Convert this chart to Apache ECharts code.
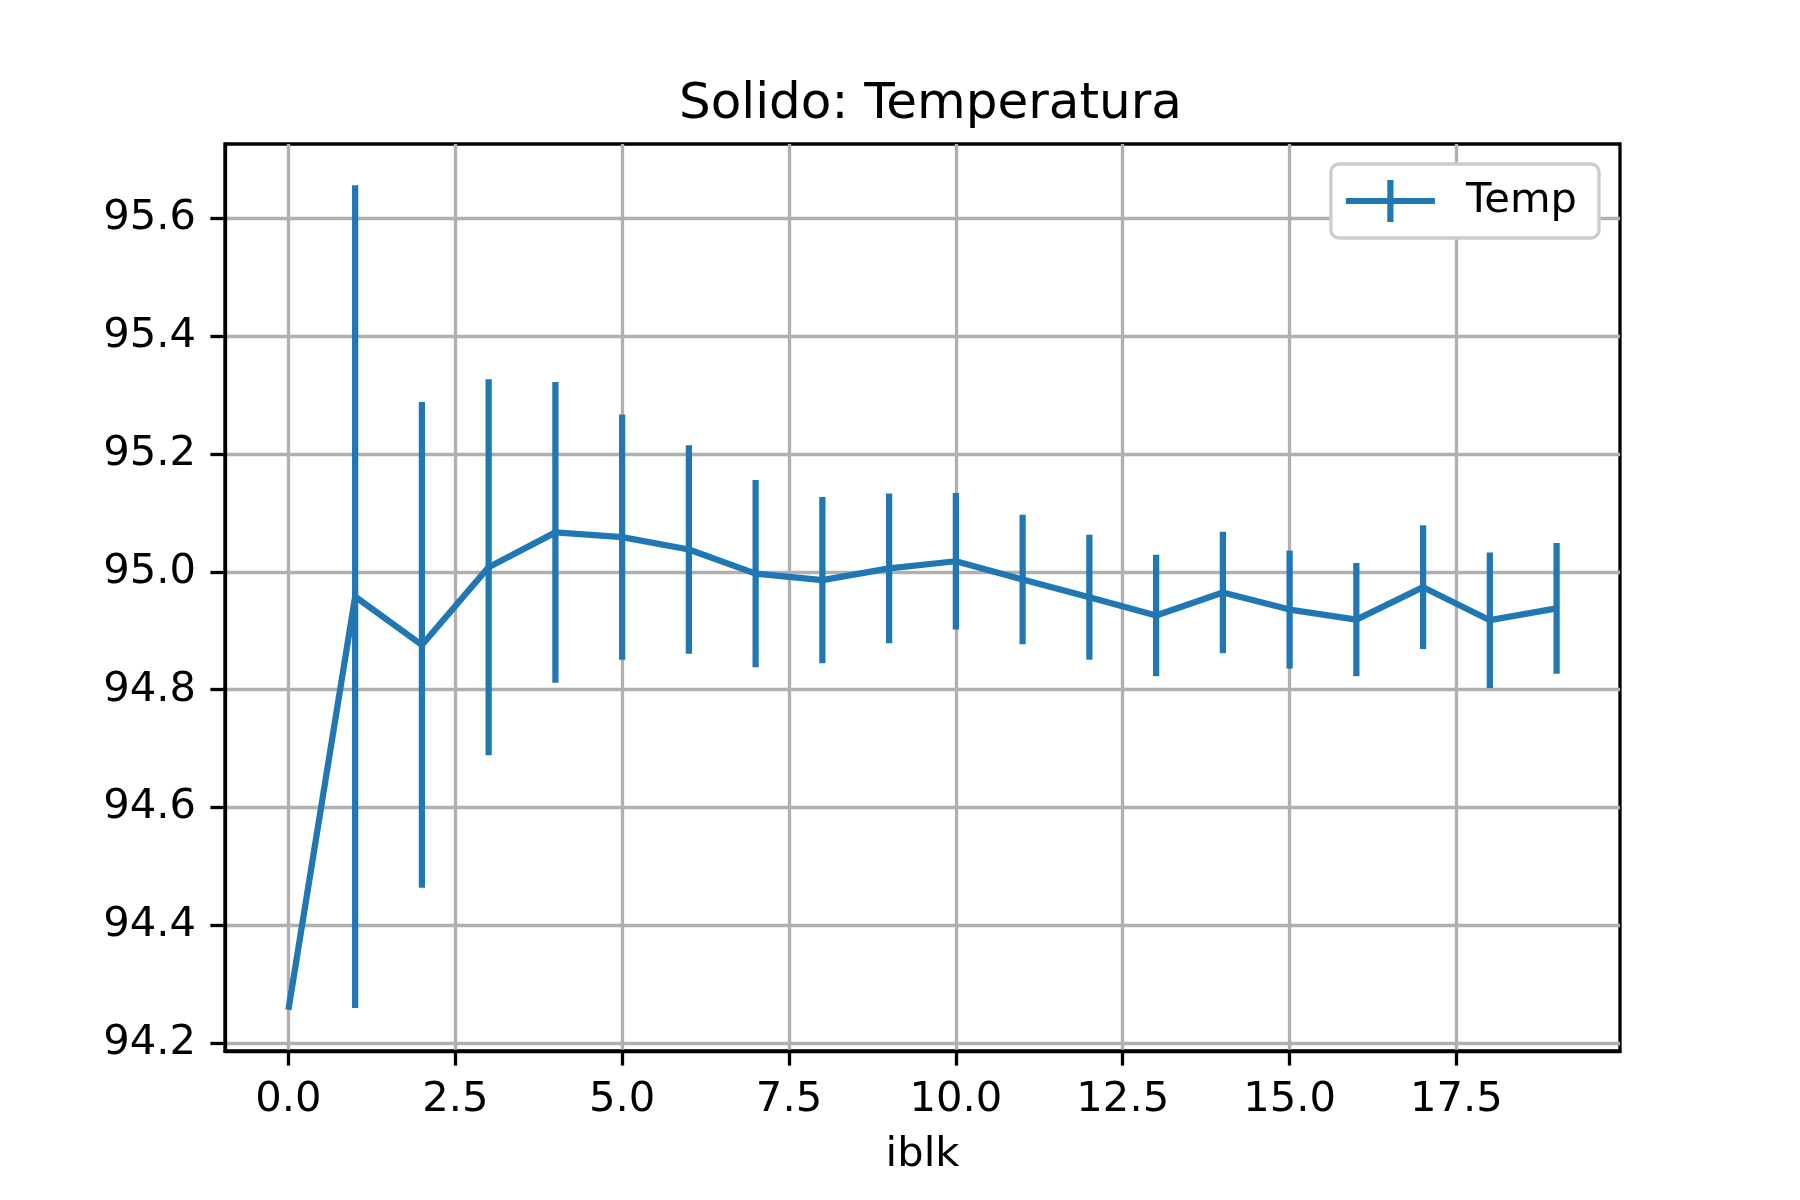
<!DOCTYPE html>
<html>
<head>
<meta charset="utf-8">
<title>Solido: Temperatura</title>
<script src="https://cdn.jsdelivr.net/npm/echarts@6/dist/echarts.min.js"></script>
<style>
	html, body { margin: 0; padding: 0; background: #fff; }
	#main { width: 1800px; height: 1200px; }
</style>
</head>
<body>
<div id="main"></div>
<script>
// block index
var iblk = [0, 1, 2, 3, 4, 5, 6, 7, 8, 9, 10, 11, 12, 13, 14, 15, 16, 17, 18, 19];
// mean temperature per block
var temp = [94.257, 94.958, 94.876, 95.008, 95.067, 95.059, 95.038, 94.997, 94.986, 95.006,
	95.018, 94.987, 94.957, 94.926, 94.965, 94.936, 94.919, 94.974, 94.918, 94.938];
// statistical error
var errTemp = [0, 0.698, 0.412, 0.319, 0.255, 0.208, 0.177, 0.159, 0.141, 0.127,
	0.116, 0.110, 0.106, 0.103, 0.103, 0.100, 0.096, 0.105, 0.115, 0.111];
// tick labels
var xTicks = [0, 2.5, 5, 7.5, 10, 12.5, 15, 17.5];
var yTicks = [94.2, 94.4, 94.6, 94.8, 95.0, 95.2, 95.4, 95.6];

var blue = '#1f77b4';
var font = 'DejaVu Sans';

// margins like matplotlib (5%)
var lo = Infinity, hi = -Infinity;
for (var i = 0; i < temp.length; i++) {
	lo = Math.min(lo, temp[i] - errTemp[i]);
	hi = Math.max(hi, temp[i] + errTemp[i]);
}
var yPad = (hi - lo) * 0.05;
var xLo = iblk[0], xHi = iblk[iblk.length - 1];
var xPad = (xHi - xLo) * 0.05;

var lineData = [];
var barData = [];
for (var i = 0; i < iblk.length; i++) {
	lineData.push([iblk[i], temp[i]]);
	barData.push([iblk[i], temp[i], errTemp[i]]);
}

var chart = echarts.init(document.getElementById('main'));
chart.setOption({
	animation: false,
	backgroundColor: '#fff',
	title: {
		text: 'Solido: Temperatura',
		left: 679,
		top: 80,
		padding: 0,
		textStyle: { fontFamily: font, fontSize: 50, fontWeight: 'normal', color: '#000' }
	},
	legend: {
		right: 201,
		top: 164,
		padding: [16, 22, 16, 15],
		backgroundColor: '#fff',
		borderColor: '#cccccc',
		borderWidth: 3.3,
		borderRadius: 8,
		itemWidth: 89,
		itemHeight: 42,
		itemGap: 31,
		data: [{
			name: 'Temp',
			icon: 'path://M0,17.9h89v6.2h-89z M41.4,0h6.2v42h-6.2z'
		}],
		itemStyle: { color: blue, borderWidth: 0 },
		textStyle: { fontFamily: font, fontSize: 41.7, color: '#000', padding: [0, 0, 0, 26] }
	},
	grid: {
		left: 225,
		right: 180,
		top: 144,
		bottom: 149,
		show: true,
		borderColor: '#000',
		borderWidth: 3.3,
		containLabel: false
	},
	xAxis: {
		type: 'value',
		min: xLo - xPad,
		max: xHi + xPad,
		name: 'iblk',
		nameLocation: 'middle',
		nameGap: 83,
		nameTextStyle: { fontFamily: font, fontSize: 41.7, color: '#000', verticalAlign: 'top' },
		axisLine: { show: true, onZero: false, lineStyle: { color: '#000', width: 3.3 } },
		axisTick: { show: true, length: 14.6, lineStyle: { color: '#000', width: 3.3 }, customValues: xTicks },
		axisLabel: {
			margin: 28,
			customValues: xTicks,
			fontFamily: font, fontSize: 41.7, color: '#000',
			formatter: function(v) { return v.toFixed(1); }
		},
		splitLine: { show: true, lineStyle: { color: '#b0b0b0', width: 3.3 } }
	},
	yAxis: {
		type: 'value',
		min: lo - yPad,
		max: hi + yPad,
		axisLine: { show: true, onZero: false, lineStyle: { color: '#000', width: 3.3 } },
		axisTick: { show: true, length: 14.6, lineStyle: { color: '#000', width: 3.3 }, customValues: yTicks },
		axisLabel: {
			margin: 29,
			customValues: yTicks,
			fontFamily: font, fontSize: 41.7, color: '#000',
			formatter: function(v) { return v.toFixed(1); }
		},
		splitLine: { show: true, lineStyle: { color: '#b0b0b0', width: 3.3 } }
	},
	series: [{
		name: 'Temp',
		type: 'line',
		data: lineData,
		showSymbol: false,
		symbol: 'none',
		color: blue,
		lineStyle: { color: blue, width: 6.25 },
		z: 3
	}, {
		name: 'Temp',
		type: 'custom',
		data: barData,
		encode: { x: 0, y: 1 },
		z: 3,
		renderItem: function(params, api) {
			var x = api.value(0), y = api.value(1), e = api.value(2);
			if (!e) return null;
			var p1 = api.coord([x, y - e]);
			var p2 = api.coord([x, y + e]);
			return {
				type: 'line',
				shape: { x1: p1[0], y1: p1[1], x2: p2[0], y2: p2[1] },
				style: { stroke: blue, lineWidth: 6.25, lineCap: 'butt' }
			};
		}
	}]
});
</script>
</body>
</html>
